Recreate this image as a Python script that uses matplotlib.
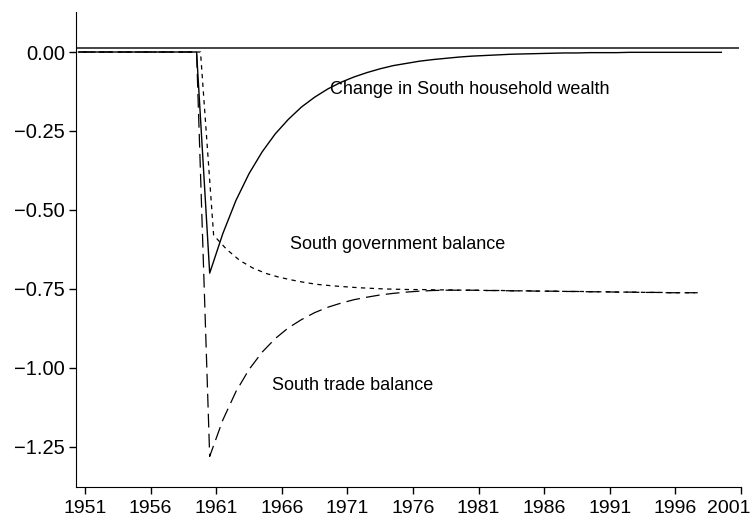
import numpy as np
import matplotlib.pyplot as plt
import matplotlib.transforms as mtransforms

plt.rcParams['font.family'] = ['Liberation Sans', 'DejaVu Sans']

# annual simulation output, shock hits in 1961
years = np.arange(1951, 2001)

wealth = [0.0] * 10 + [
    -0.700, -0.575, -0.470, -0.385, -0.316, -0.259, -0.213, -0.174, -0.143, -0.117,
    -0.096, -0.079, -0.065, -0.053, -0.043, -0.036, -0.029, -0.024, -0.020, -0.016,
    -0.013, -0.011, -0.009, -0.007, -0.006, -0.005, -0.004, -0.003, -0.003, -0.002,
    -0.002, -0.002, -0.001, -0.001, -0.001, -0.001, -0.001, -0.001, -0.001, -0.001,
]

gov_balance = [0.0] * 10 + [
    -0.580, -0.625, -0.660, -0.684, -0.701, -0.713, -0.722, -0.730, -0.736, -0.740,
    -0.743, -0.746, -0.748, -0.750, -0.751, -0.752, -0.752, -0.753, -0.753, -0.754,
    -0.754, -0.755, -0.755, -0.756, -0.756, -0.757, -0.757, -0.758, -0.758, -0.759,
    -0.759, -0.760, -0.760, -0.761, -0.761, -0.762, -0.762, -0.762,
]

trade_balance = [0.0] * 10 + [
    -1.280, -1.165, -1.075, -1.005, -0.950, -0.907, -0.873, -0.847, -0.825, -0.808,
    -0.795, -0.784, -0.776, -0.769, -0.764, -0.760, -0.757, -0.755, -0.754, -0.754,
    -0.754, -0.755, -0.755, -0.756, -0.756, -0.757, -0.757, -0.758, -0.758, -0.759,
    -0.759, -0.760, -0.760, -0.761, -0.761, -0.762, -0.762, -0.762,
]

xtick_years = np.arange(1951, 2002, 5)
yticks = [0.0, -0.25, -0.5, -0.75, -1.0, -1.25]

fig = plt.figure(figsize=(7.51, 5.17), dpi=100)
ax = fig.add_axes([0.1012, 0.058, 0.8855, 0.919])

x_all = years - 0.5
ax.axhline(0.013, xmin=0, xmax=0.995, color='#444444', lw=1.4)
ax.plot(x_all, wealth, color='black', lw=1.0)
ax.plot(years[:len(gov_balance)] - 0.2, gov_balance, color='black', lw=0.9,
        dashes=(3.5, 3.5))
ax.plot(x_all[:len(trade_balance)], trade_balance, color='black', lw=0.9,
        dashes=(11, 5))

ax.text(1969.7, -0.12, 'Change in South household wealth', fontsize=13, va='center')
ax.text(1966.6, -0.61, 'South government balance', fontsize=13, va='center')
ax.text(1965.25, -1.057, 'South trade balance', fontsize=13, va='center')

ax.set_xlim(1950.31, 2001)
ax.set_ylim(-1.377, 0.127)
ax.set_xticks(xtick_years)
ax.set_xticklabels([str(y) for y in xtick_years])
ax.set_yticks(yticks)
ax.set_yticklabels(['%.2f' % v if v == 0 else '\u2212%.2f' % abs(v) for v in yticks])

ax.spines['top'].set_visible(False)
ax.spines['right'].set_visible(False)
ax.tick_params(direction='out', length=5, width=1)
ax.tick_params(axis='x', labelsize=14, pad=4)
ax.tick_params(axis='y', labelsize=14.5, pad=3)

# keep the last year label inside the figure
last = ax.get_xticklabels()[-1]
last.set_horizontalalignment('right')
last.set_transform(last.get_transform() +
                   mtransforms.ScaledTranslation(9 / 100, 0, fig.dpi_scale_trans))

plt.savefig('out.png', dpi=100)
